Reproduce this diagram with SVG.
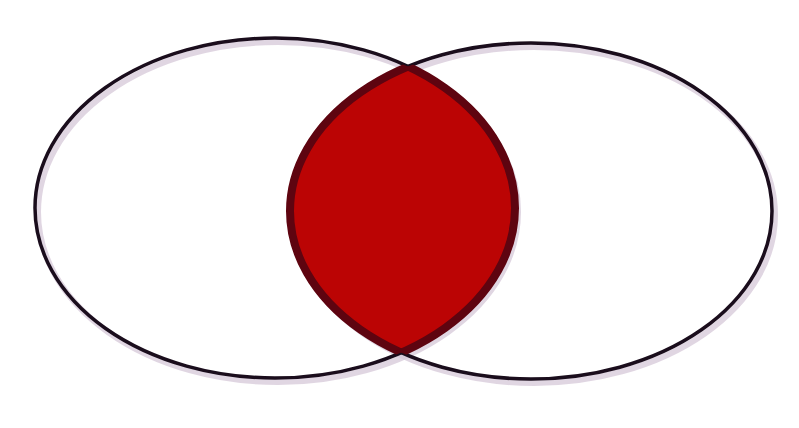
<svg xmlns="http://www.w3.org/2000/svg" width="799" height="428" viewBox="0 0 799 428">
  <style>
    .shadow { fill: none; stroke: #d6c8d8; stroke-width: 6; opacity: 0.75; }
    .outline { fill: none; stroke: #1a0d1c; stroke-width: 3.5; }
    .lens { fill: #bb0404; }
    .lens-edge { fill: none; stroke: #5e0410; stroke-width: 8; }
  </style>
  <defs>
    <clipPath id="clipLeft">
      <ellipse cx="275" cy="208" rx="240" ry="170"/>
    </clipPath>
    <clipPath id="clipRight">
      <ellipse cx="531" cy="211" rx="241" ry="168"/>
    </clipPath>
  </defs>
  <rect width="799" height="428" fill="#ffffff"/>
  <g id="shadows">
    <ellipse class="shadow" cx="278" cy="212" rx="240" ry="170"/>
    <ellipse class="shadow" cx="534" cy="215" rx="241" ry="168"/>
  </g>
  <g id="set-left">
    <ellipse class="outline" cx="275" cy="208" rx="240" ry="170"/>
  </g>
  <g id="set-right">
    <ellipse class="outline" cx="531" cy="211" rx="241" ry="168"/>
  </g>
  <g id="intersection">
    <ellipse class="lens" cx="531" cy="211" rx="241" ry="168" clip-path="url(#clipLeft)"/>
    <ellipse class="lens-edge" cx="531" cy="211" rx="241" ry="168" clip-path="url(#clipLeft)"/>
    <ellipse class="lens-edge" cx="275" cy="208" rx="240" ry="170" clip-path="url(#clipRight)"/>
  </g>
</svg>
